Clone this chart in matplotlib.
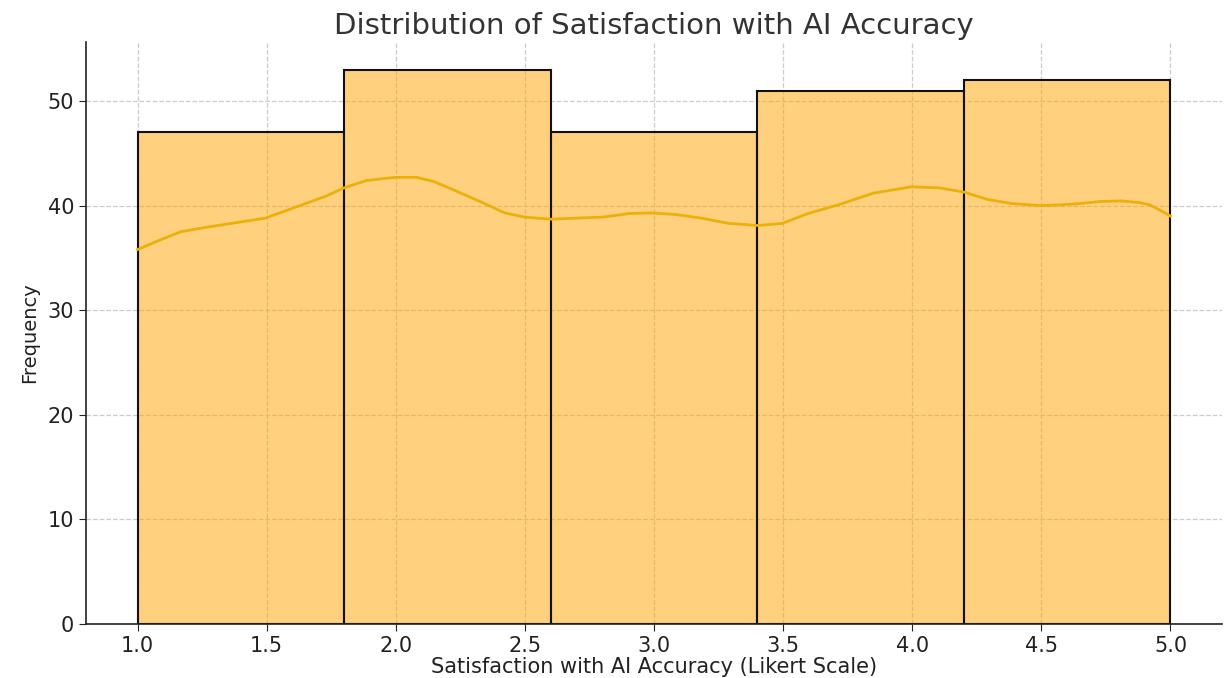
import numpy as np
import matplotlib
matplotlib.use("Agg")
import matplotlib.pyplot as plt

# histogram bins (Likert 1-5 split into 5 bins) and counts
bin_edges = [1.0, 1.8, 2.6, 3.4, 4.2, 5.0]
counts = [47, 53, 47, 51, 52]

# kde curve (scaled to counts)
kde_x = [1.0, 1.076, 1.167, 1.259, 1.363, 1.494, 1.573, 1.651, 1.729, 1.80,
         1.886, 1.997, 2.082, 2.148, 2.252, 2.344, 2.422, 2.50, 2.60, 2.697,
         2.80, 2.906, 2.99, 3.084, 3.184, 3.29, 3.40, 3.497, 3.597, 3.717,
         3.85, 3.997, 4.104, 4.20, 4.29, 4.384, 4.497, 4.57, 4.65, 4.73,
         4.81, 4.877, 4.917, 4.957, 5.0]
kde_y = [35.8, 36.6, 37.5, 37.9, 38.3, 38.8, 39.5, 40.2, 40.9, 41.7,
         42.4, 42.7, 42.7, 42.3, 41.2, 40.2, 39.3, 38.9, 38.7, 38.8,
         38.9, 39.25, 39.3, 39.15, 38.8, 38.3, 38.1, 38.3, 39.25, 40.1,
         41.2, 41.8, 41.7, 41.3, 40.6, 40.2, 40.0, 40.07, 40.2, 40.4,
         40.45, 40.3, 40.1, 39.6, 39.0]

fig = plt.figure(figsize=(12.27, 6.78), dpi=100)
ax = fig.add_axes([0.070, 0.080, 0.926, 0.858])

ax.grid(True, linestyle='--', color='#cccccc', linewidth=0.9, zorder=0)
ax.set_axisbelow(True)

widths = np.diff(bin_edges)
ax.bar(bin_edges[:-1], counts, width=widths, align='edge',
       facecolor=(1.0, 0.647, 0.0, 0.5), edgecolor='#111111', linewidth=1.5, zorder=2)
ax.plot(kde_x, kde_y, color='#ebb00a', linewidth=2, zorder=3,
        solid_joinstyle='round')

ax.set_xlim(0.8, 5.2)
ax.set_ylim(0, 55.65)
ax.set_xticks(np.arange(1.0, 5.01, 0.5))
ax.set_yticks([0, 10, 20, 30, 40, 50])
ax.tick_params(labelsize=15, colors='#222222', length=5)

for s in ['top', 'right']:
    ax.spines[s].set_visible(False)
for s in ['left', 'bottom']:
    ax.spines[s].set_color('#222222')
    ax.spines[s].set_linewidth(1.2)

ax.set_title('Distribution of Satisfaction with AI Accuracy', fontsize=21,
             color='#333333', pad=6)
ax.set_xlabel('Satisfaction with AI Accuracy (Likert Scale)', fontsize=15,
              color='#222222', labelpad=1)
ax.set_ylabel('Frequency', fontsize=14, color='#222222', labelpad=6)

fig.savefig('out.png', dpi=100)
